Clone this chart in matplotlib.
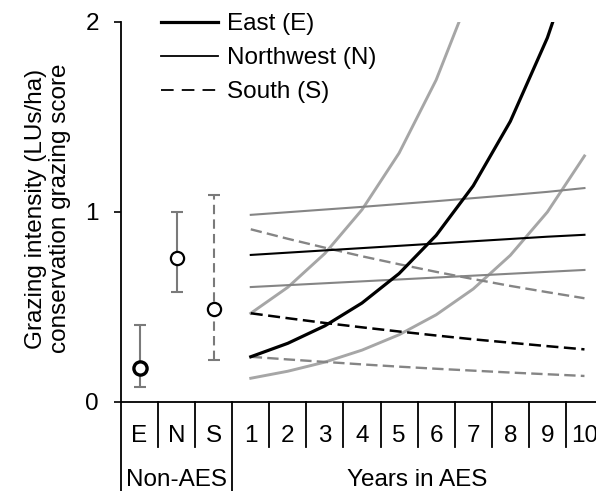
import matplotlib
matplotlib.use("Agg")
import matplotlib.pyplot as plt
from matplotlib.lines import Line2D

plt.rcParams["font.family"] = ["Liberation Sans", "DejaVu Sans"]
plt.rcParams["font.size"] = 17.5

# Non-AES means with CI (E, N, S)
groups = ["E", "N", "S"]
nonaes_mean = [0.18, 0.76, 0.49]
nonaes_low = [0.08, 0.58, 0.22]
nonaes_high = [0.405, 1.00, 1.09]

years = [1, 2, 3, 4, 5, 6, 7, 8, 9, 10]

# East (E)
east_mean = [0.238, 0.309, 0.401, 0.521, 0.676, 0.877, 1.138, 1.477, 1.917, 2.49]
east_low = [0.125, 0.162, 0.210, 0.273, 0.354, 0.459, 0.595, 0.772, 1.00, 1.295]
east_high = [0.467, 0.604, 0.782, 1.012, 1.31, 1.695, 2.19, 2.84, 3.67, 4.75]

# Northwest (N)
nw_mean = [0.774, 0.786, 0.798, 0.810, 0.822, 0.834, 0.846, 0.858, 0.870, 0.880]
nw_low = [0.605, 0.615, 0.625, 0.635, 0.645, 0.655, 0.665, 0.675, 0.685, 0.695]
nw_high = [0.985, 0.999, 1.013, 1.027, 1.042, 1.057, 1.073, 1.089, 1.106, 1.126]

# South (S)
s_mean = [0.467, 0.441, 0.416, 0.393, 0.371, 0.350, 0.330, 0.312, 0.294, 0.277]
s_low = [0.238, 0.224, 0.211, 0.198, 0.186, 0.175, 0.165, 0.155, 0.146, 0.137]
s_high = [0.909, 0.859, 0.812, 0.767, 0.725, 0.685, 0.647, 0.611, 0.578, 0.546]

W, H = 596, 491
fig = plt.figure(figsize=(W / 100, H / 100), dpi=100)
ax = fig.add_axes([121 / W, 89 / H, 482 / W, 380 / H])

# category positions: E, N, S at 0..2, years at 3..12
xg = list(range(len(groups)))
xy = [2 + y for y in years]

ci_east = "#a6a6a6"
ci_grey = "#858585"
dash = (0, (4.8, 2.2))

ax.plot(xy, east_high, color=ci_east, lw=2.1)
ax.plot(xy, east_low, color=ci_east, lw=2.1)
ax.plot(xy, nw_high, color=ci_grey, lw=1.5)
ax.plot(xy, nw_low, color=ci_grey, lw=1.5)
ax.plot(xy, s_high, color=ci_grey, lw=1.7, linestyle=dash)
ax.plot(xy, s_low, color=ci_grey, lw=1.7, linestyle=dash)
ax.plot(xy, s_mean, color="black", lw=1.8, linestyle=dash)
ax.plot(xy, nw_mean, color="black", lw=1.5)
ax.plot(xy, east_mean, color="black", lw=2.3)

# Non-AES points with error bars
styles = ["-", "-", "--"]
for i in range(len(groups)):
    m = nonaes_mean[i]
    err = [[m - nonaes_low[i]], [nonaes_high[i] - m]]
    eb = ax.errorbar([xg[i]], [m], yerr=err, fmt="none", ecolor="#7a7a7a",
                     elinewidth=1.5, capsize=4, capthick=1.5)
    if styles[i] == "--":
        eb[2][0].set_linestyle((0, (4.5, 2.5)))
    ax.plot([xg[i]], [m], "o", ms=9.5, mfc="white", mec="black",
            mew=2.4 if i == 0 else 1.6, zorder=5)

ax.set_xlim(-0.5, 12.5)
ax.set_ylim(0, 2)
ax.set_yticks([0, 1, 2])
ax.set_xticks([])
ax.tick_params(axis="y", length=5, width=1.2, pad=11)
for s in ["top", "right"]:
    ax.spines[s].set_visible(False)
ax.spines["left"].set_linewidth(1.3)
ax.spines["bottom"].set_linewidth(1.3)

# category table below the axis
tr = ax.get_xaxis_transform()
cat_labels = groups + [str(y) for y in years]
for k in range(len(cat_labels) + 1):
    xb = k - 0.5
    outer = k in (0, 3, len(cat_labels))
    ax.plot([xb, xb], [0, -0.26 if outer else -0.118], color="black",
            lw=1.3, transform=tr, clip_on=False)
for k, lab in enumerate(cat_labels):
    ax.text(k, -0.09, lab, transform=tr, ha="center", va="center")
ax.text(1, -0.205, "Non-AES", transform=tr, ha="center", va="center")
ax.text(7.5, -0.205, "Years in AES", transform=tr, ha="center", va="center")

fig.text(36 / W, 0.575, "Grazing intensity (LUs/ha)", rotation=90,
         ha="center", va="center")
fig.text(60 / W, 0.575, "conservation grazing score", rotation=90,
         ha="center", va="center")

handles = [
    Line2D([], [], color="black", lw=2.3),
    Line2D([], [], color="black", lw=1.3),
    Line2D([], [], color="black", lw=1.3, linestyle=(0, (7, 4.5))),
]
ax.legend(handles, ["East (E)", "Northwest (N)", "South (S)"],
          loc="upper left", bbox_to_anchor=(161 / W, 1 - 13 / H),
          bbox_transform=fig.transFigure, frameon=False,
          handlelength=2.35, handletextpad=0.37, borderpad=0,
          borderaxespad=0, labelspacing=0.5)

fig.savefig("out.png", dpi=100)
